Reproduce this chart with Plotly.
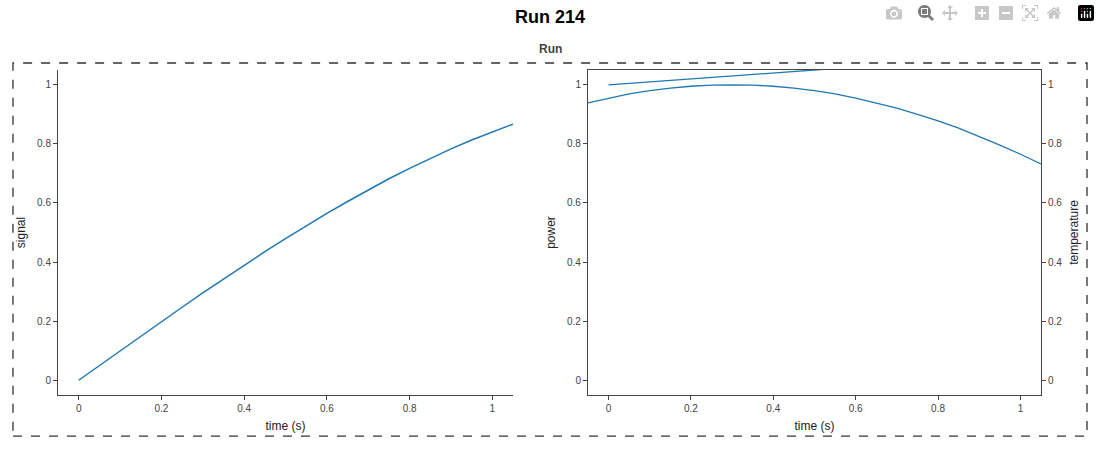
import plotly.graph_objects as go

# values
signal_time = [0.0, 0.05, 0.1, 0.15, 0.2, 0.25, 0.3, 0.35, 0.4, 0.45, 0.5,
               0.55, 0.6, 0.65, 0.7, 0.75, 0.8, 0.85, 0.9, 0.95, 1.0, 1.05]
signal = [0.0, 0.05, 0.1, 0.149, 0.199, 0.247, 0.296, 0.343, 0.389, 0.435, 0.479,
          0.523, 0.565, 0.605, 0.644, 0.682, 0.717, 0.751, 0.783, 0.813, 0.841, 0.867]

power_time = [-0.05, 0.0, 0.05, 0.1, 0.15, 0.2, 0.25, 0.3, 0.35, 0.4, 0.45, 0.5,
              0.55, 0.6, 0.65, 0.7, 0.75, 0.8, 0.85, 0.9, 0.95, 1.0, 1.05]
power = [0.939, 0.955, 0.969, 0.980, 0.989, 0.995, 0.999, 1.0, 0.999, 0.995, 0.989, 0.980,
         0.969, 0.955, 0.939, 0.921, 0.900, 0.878, 0.853, 0.825, 0.796, 0.765, 0.732]

temp_time = [0.0, 0.25, 0.5, 0.75, 1.0]
temperature = [1.0, 1.025, 1.05, 1.075, 1.1]

tick_vals = [0, 0.2, 0.4, 0.6, 0.8, 1]
tick_text = ["0", "0.2", "0.4", "0.6", "0.8", "1"]

LINE = "#1f77b4"
AXIS = "#444444"
FONT = "Liberation Sans, Arial, sans-serif"

fig = go.Figure()
fig.add_trace(go.Scatter(x=signal_time, y=signal, mode="lines",
                         line=dict(color=LINE, width=1.5), xaxis="x", yaxis="y"))
fig.add_trace(go.Scatter(x=power_time, y=power, mode="lines",
                         line=dict(color=LINE, width=1.3), xaxis="x2", yaxis="y2"))
fig.add_trace(go.Scatter(x=temp_time, y=temperature, mode="lines",
                         line=dict(color=LINE, width=1.3), xaxis="x2", yaxis="y3"))

axis_common = dict(showgrid=False, zeroline=False, ticks="outside", ticklen=4,
                   tickcolor=AXIS, linecolor=AXIS, linewidth=1, showline=True,
                   tickfont=dict(size=10, color=AXIS), range=[-0.05, 1.05],
                   tickvals=tick_vals, ticktext=tick_text)
ydom = [0.1222, 0.8444]

fig.update_layout(
    width=1100, height=450,
    margin=dict(l=0, r=0, t=0, b=0),
    paper_bgcolor="white", plot_bgcolor="white",
    showlegend=False,
    font=dict(family=FONT, color="#222"),
    xaxis=dict(axis_common, domain=[0.0527, 0.4664], anchor="y",
               title=dict(text="time (s)", font=dict(size=12), standoff=8)),
    yaxis=dict(axis_common, domain=ydom, anchor="x",
               title=dict(text="signal", font=dict(size=12), standoff=8)),
    xaxis2=dict(axis_common, domain=[0.5345, 0.9464], anchor="y2", mirror=True,
                title=dict(text="time (s)", font=dict(size=12), standoff=8)),
    yaxis2=dict(axis_common, domain=ydom, anchor="x2", mirror=True,
                title=dict(text="power", font=dict(size=12), standoff=8)),
    yaxis3=dict(axis_common, overlaying="y2", side="right", anchor="x2",
                title=dict(text="temperature", font=dict(size=12), standoff=8)),
    title=dict(text="<b>Run 214</b>", x=0.5, xanchor="center", y=0.962, yanchor="middle",
               font=dict(size=18, color="black")),
    annotations=[dict(text="<b>Run</b>", x=0.5, y=0.891, xref="paper", yref="paper",
                      xanchor="center", yanchor="middle",
                      showarrow=False, font=dict(size=12, color="#444"))],
    shapes=[dict(type="rect", xref="paper", yref="paper", x0=0.0118, x1=0.9882,
                 y0=0.031, y1=0.86, line=dict(color="#333", width=1.3, dash="dash"))],
)

fig.write_html("out.html", post_script="document.body.style.margin='0';")
